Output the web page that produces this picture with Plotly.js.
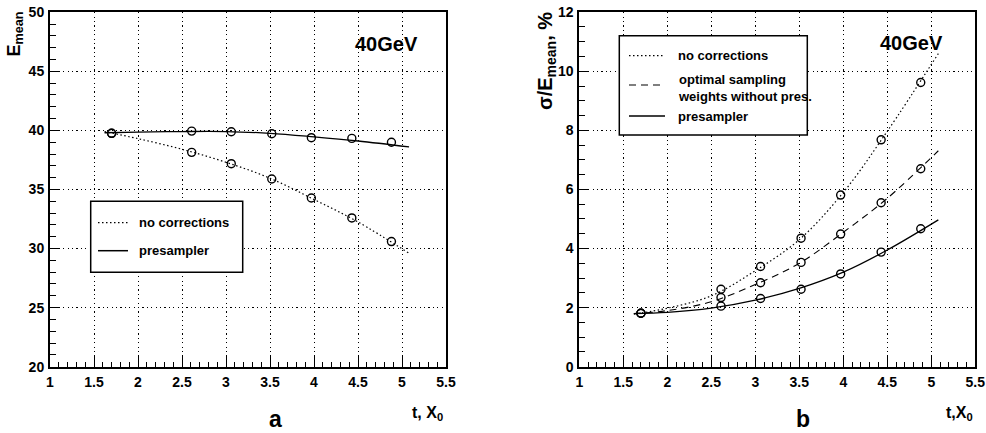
<!DOCTYPE html>
<html>
<head>
<meta charset="utf-8">
<script src="https://cdn.plot.ly/plotly-3.0.1.min.js"></script>
<style>html,body{margin:0;padding:0;background:#fff;}#chart{width:986px;height:433px;}</style>
</head>
<body>
<div id="chart"></div>
<script>
// ---- data ----
var tPoints = [1.70, 2.61, 3.06, 3.52, 3.97, 4.43, 4.88];
var eNoCorr = [39.75, 38.14, 37.18, 35.88, 34.28, 32.59, 30.59];
var ePresampler = [39.75, 39.94, 39.88, 39.71, 39.38, 39.32, 38.99];
var resNoCorr = [1.81, 2.62, 3.39, 4.35, 5.81, 7.68, 9.62];
var resOptimal = [1.81, 2.34, 2.84, 3.53, 4.49, 5.55, 6.70];
var resPresampler = [1.81, 2.05, 2.31, 2.62, 3.14, 3.88, 4.67];

// fitted curves
var tFit = [1.62, 2.0, 2.5, 3.0, 3.5, 4.0, 4.5, 5.08];
var eFitNoCorr = [39.9, 39.3, 38.4, 37.3, 35.95, 34.15, 32.25, 29.6];
var eFitPresampler = [39.8, 39.85, 39.9, 39.9, 39.75, 39.45, 39.1, 38.6];
var resFitNoCorr = [1.78, 1.98, 2.4, 3.25, 4.3, 5.9, 7.97, 10.6];
var resFitOptimal = [1.8, 1.9, 2.2, 2.78, 3.5, 4.55, 5.7, 7.31];
var resFitPresampler = [1.8, 1.84, 1.98, 2.25, 2.65, 3.2, 3.95, 4.97];

var legendLabels = ["no corrections", "optimal sampling<br>weights without pres.", "presampler"];
var energyLabel = "40GeV";

// ---- helpers ----
var W = 986, H = 433;
function px(x){ return x / W; }
function py(y){ return 1 - y / H; }
var FONT = "Liberation Sans, Arial, Helvetica, sans-serif";
function bf(size){ return {family: FONT, size: size, color: "#000", weight: "bold"}; }

var DOT = "1.5px,2.5px";
var DASH = "7px,5px";

function curve(x, y, xa, ya, dash, w){
  return {x: x, y: y, xaxis: xa, yaxis: ya, mode: "lines", type: "scatter",
    line: {color: "#000", width: w, dash: dash, shape: "spline"}, showlegend: false, hoverinfo: "skip"};
}
function pts(x, y, xa, ya){
  return {x: x, y: y, xaxis: xa, yaxis: ya, mode: "markers", type: "scatter",
    marker: {symbol: "circle-open", size: 8, color: "#000", line: {width: 1.4, color: "#000"}},
    showlegend: false};
}

var traces = [
  curve(tFit, eFitNoCorr, "x", "y", DOT, 1.2),
  curve(tFit, eFitPresampler, "x", "y", "solid", 1.3),
  pts(tPoints, eNoCorr, "x", "y"),
  pts(tPoints, ePresampler, "x", "y"),
  curve(tFit, resFitNoCorr, "x2", "y2", DOT, 1.2),
  curve(tFit, resFitOptimal, "x2", "y2", DASH, 1.1),
  curve(tFit, resFitPresampler, "x2", "y2", "solid", 1.3),
  pts(tPoints, resNoCorr, "x2", "y2"),
  pts(tPoints, resOptimal, "x2", "y2"),
  pts(tPoints, resPresampler, "x2", "y2")
];

function xAxis(domain, anchor){
  return {domain: domain, anchor: anchor, range: [1, 5.5], tick0: 1, dtick: 0.5,
    ticks: "inside", ticklen: 10, tickwidth: 1, tickcolor: "#000",
    minor: {dtick: 0.1, ticks: "inside", ticklen: 5, tickwidth: 1, tickcolor: "#000", showgrid: false},
    showgrid: true, gridcolor: "#000", gridwidth: 1, griddash: "1.2px,3.2px",
    showline: true, linecolor: "#000", linewidth: 2, mirror: true, zeroline: false,
    tickfont: bf(14), ticklabelstandoff: 1, fixedrange: true};
}
function yAxis(domain, anchor, range, dtick, minor){
  return {domain: domain, anchor: anchor, range: range, dtick: dtick,
    ticks: "inside", ticklen: 10, tickwidth: 1, tickcolor: "#000",
    minor: {dtick: minor, ticks: "inside", ticklen: 6, tickwidth: 1, tickcolor: "#000", showgrid: false},
    showgrid: true, gridcolor: "#000", gridwidth: 1, griddash: "1.2px,3.2px",
    showline: true, linecolor: "#000", linewidth: 2, mirror: true, zeroline: false,
    tickfont: bf(14), ticklabelstandoff: 1, fixedrange: true};
}

var yDom = [py(366.7), py(12.2)];

var shapes = [];
var annotations = [];
function ann(text, x, y, size, xanchor, yanchor, angle){
  annotations.push({text: text, xref: "paper", yref: "paper", x: px(x), y: py(y),
    xanchor: xanchor || "center", yanchor: yanchor || "middle", showarrow: false,
    align: xanchor === "left" ? "left" : "center",
    font: bf(size), textangle: angle || 0});
}
function box(x0, y0, x1, y1){
  shapes.push({type: "rect", xref: "paper", yref: "paper", x0: px(x0), x1: px(x1), y0: py(y1), y1: py(y0),
    fillcolor: "#fff", line: {color: "#000", width: 1.5}, layer: "above"});
}
function sample(x0, x1, y, dash, w){
  shapes.push({type: "line", xref: "paper", yref: "paper", x0: px(x0), x1: px(x1), y0: py(y), y1: py(y),
    line: {color: "#000", width: w, dash: dash}, layer: "above"});
}

// left legend
box(90.7, 201.3, 242.7, 272.3);
sample(98, 128, 222.7, DOT, 1.2);
sample(98, 128, 250.7, "solid", 1.5);
ann(legendLabels[0], 137, 222.5, 13, "left");
ann(legendLabels[2], 137, 250.5, 13, "left");

// right legend
box(619.3, 35.7, 807.3, 135);
sample(629, 665, 55.7, DOT, 1.2);
sample(629, 665, 85, DASH, 1.2);
sample(629, 665, 116, "solid", 1.5);
ann(legendLabels[0], 676, 56, 13, "left");
ann(legendLabels[1], 676, 88, 13, "left");
ann(legendLabels[2], 676, 116, 13, "left");

// energy labels
ann(energyLabel, 386, 44, 20);
ann(energyLabel, 911, 43, 20);

// axis titles
ann("E<sub>mean</sub>", 15, 10, 18, "center", "top", -90);
ann("σ/E<sub>mean</sub>, %", 546, 10, 20, "center", "top", -90);
ann("t, X<sub>0</sub>", 427, 413, 16);
ann("t,X<sub>0</sub>", 959, 413, 16);

// panel labels
ann("a", 275, 419, 23);
ann("b", 803, 419, 23);

var layout = {
  width: W, height: H,
  margin: {l: 0, r: 0, t: 0, b: 0, pad: 0},
  paper_bgcolor: "#fff", plot_bgcolor: "#fff",
  showlegend: false,
  font: {family: FONT, color: "#000"},
  xaxis: xAxis([px(50), px(446)], "y"),
  yaxis: yAxis(yDom, "x", [20, 50], 5, 1),
  xaxis2: xAxis([px(579.3), px(975.3)], "y2"),
  yaxis2: yAxis(yDom, "x2", [0, 12], 2, 0.5),
  shapes: shapes,
  annotations: annotations
};

Plotly.newPlot("chart", traces, layout, {staticPlot: true, displayModeBar: false});
</script>
</body>
</html>
